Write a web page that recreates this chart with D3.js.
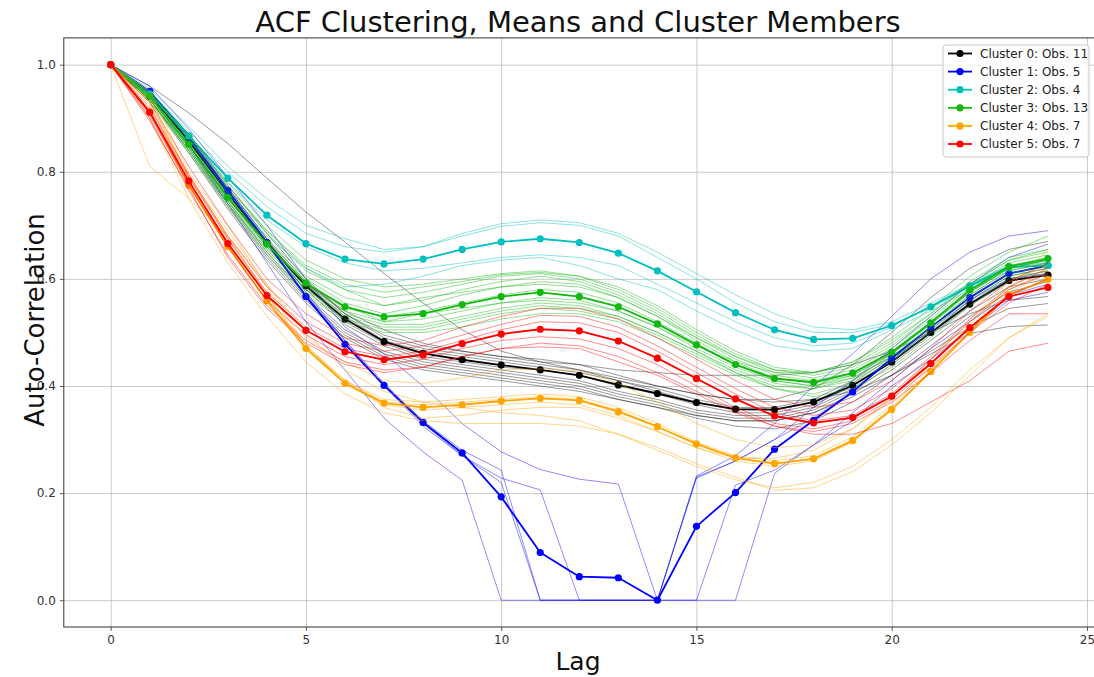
<!DOCTYPE html>
<html>
<head>
<meta charset="utf-8">
<script src="https://cdn.jsdelivr.net/npm/d3@7"></script>
<style>
  body { margin: 0; background: #fff; }
  svg { display: block; font-family: "DejaVu Sans", sans-serif; }
</style>
</head>
<body>
<svg id="chart" width="1094" height="677"></svg>
<script>
// Lags on the x axis
const lags = [0,1,2,3,4,5,6,7,8,9,10,11,12,13,14,15,16,17,18,19,20,21,22,23,24];
const xTicks = [0, 5, 10, 15, 20, 25];
const yTicks = [0.0, 0.2, 0.4, 0.6, 0.8, 1.0];

const clusterIds = [0, 1, 2, 3, 4, 5];
const clusterCounts = [11, 5, 4, 13, 7, 7];
const clusterColors = ["#000000", "#0000ff", "#00bfbf", "#10b810", "#ffa500", "#ff0000"];

// Cluster mean ACF curves
const mean0 = [1.0,0.945,0.858,0.76,0.668,0.587,0.525,0.483,0.461,0.449,0.439,0.430,0.420,0.402,0.386,0.369,0.357,0.356,0.370,0.401,0.445,0.500,0.553,0.597,0.607];
const mean1 = [1.0,0.95,0.865,0.765,0.668,0.567,0.478,0.401,0.332,0.275,0.193,0.089,0.044,0.042,0.0,0.138,0.201,0.282,0.336,0.389,0.452,0.51,0.565,0.61,0.625];
const mean2 = [1.0,0.945,0.867,0.788,0.719,0.666,0.637,0.628,0.637,0.655,0.669,0.675,0.668,0.648,0.615,0.576,0.537,0.505,0.487,0.489,0.513,0.548,0.587,0.622,0.625];
const mean3 = [1.0,0.940,0.851,0.752,0.665,0.592,0.548,0.529,0.535,0.552,0.567,0.575,0.567,0.548,0.516,0.477,0.440,0.414,0.407,0.424,0.463,0.518,0.579,0.623,0.638];
const mean4 = [1.0,0.912,0.775,0.66,0.559,0.470,0.405,0.368,0.360,0.365,0.372,0.377,0.373,0.352,0.324,0.292,0.266,0.255,0.264,0.298,0.356,0.427,0.500,0.57,0.599];
const mean5 = [1.0,0.911,0.783,0.666,0.569,0.504,0.464,0.449,0.458,0.479,0.497,0.506,0.503,0.484,0.452,0.414,0.376,0.344,0.331,0.341,0.381,0.442,0.509,0.567,0.584];

// Individual series belonging to each cluster
const members0 = [
  [1,0.96,0.91,0.853,0.788,0.725,0.669,0.61,0.555,0.505,0.465,0.445,0.43,0.415,0.40,0.385,0.375,0.37,0.375,0.39,0.42,0.46,0.498,0.511,0.514],
  [1,0.95,0.87,0.775,0.685,0.60,0.535,0.495,0.475,0.465,0.455,0.45,0.44,0.42,0.40,0.385,0.375,0.375,0.395,0.44,0.50,0.565,0.62,0.655,0.67],
  [1,0.95,0.865,0.77,0.675,0.595,0.535,0.49,0.47,0.46,0.45,0.44,0.43,0.41,0.395,0.375,0.36,0.36,0.375,0.41,0.46,0.52,0.575,0.62,0.635],
  [1,0.945,0.86,0.765,0.67,0.59,0.53,0.485,0.465,0.455,0.445,0.435,0.425,0.41,0.39,0.37,0.355,0.355,0.37,0.405,0.455,0.51,0.565,0.61,0.625],
  [1,0.945,0.855,0.76,0.665,0.585,0.52,0.48,0.455,0.445,0.435,0.43,0.42,0.40,0.385,0.365,0.35,0.35,0.365,0.40,0.45,0.505,0.56,0.605,0.62],
  [1,0.94,0.85,0.75,0.66,0.58,0.515,0.475,0.45,0.44,0.43,0.42,0.41,0.39,0.375,0.355,0.345,0.345,0.36,0.395,0.445,0.50,0.555,0.60,0.615],
  [1,0.94,0.85,0.745,0.65,0.57,0.505,0.465,0.445,0.435,0.425,0.415,0.405,0.385,0.37,0.35,0.34,0.34,0.355,0.39,0.44,0.495,0.55,0.595,0.61],
  [1,0.94,0.845,0.74,0.645,0.565,0.50,0.46,0.44,0.43,0.42,0.41,0.40,0.38,0.365,0.345,0.335,0.335,0.35,0.385,0.43,0.485,0.54,0.585,0.60],
  [1,0.935,0.84,0.735,0.64,0.56,0.495,0.455,0.435,0.425,0.415,0.405,0.395,0.375,0.36,0.34,0.325,0.32,0.335,0.37,0.42,0.475,0.53,0.575,0.595],
  [1,0.935,0.835,0.73,0.635,0.555,0.49,0.45,0.43,0.42,0.41,0.40,0.39,0.375,0.36,0.345,0.335,0.335,0.35,0.38,0.42,0.465,0.51,0.545,0.554],
  [1,0.94,0.85,0.755,0.665,0.59,0.54,0.505,0.48,0.465,0.455,0.445,0.44,0.43,0.425,0.42,0.42,0.42,0.425,0.44,0.465,0.50,0.535,0.56,0.567]
];
const members1 = [
  [1,0.96,0.88,0.79,0.70,0.60,0.51,0.46,0.40,0.33,0.277,0.244,0.226,0.217,0,0.232,0.27,0.33,0.40,0.46,0.53,0.60,0.65,0.68,0.69],
  [1,0.95,0.86,0.76,0.665,0.57,0.48,0.40,0.33,0.27,0.228,0.206,0,0,0,0.228,0.26,0.30,0.36,0.41,0.47,0.53,0.59,0.64,0.665],
  [1,0.95,0.865,0.765,0.67,0.57,0.485,0.405,0.335,0.28,0.243,0,0,0,0,0.23,0.26,0.30,0.34,0.39,0.45,0.50,0.56,0.60,0.61],
  [1,0.94,0.85,0.74,0.63,0.52,0.43,0.34,0.277,0.224,0,0,0,0,0,0,0.215,0.243,0.29,0.35,0.41,0.47,0.52,0.57,0.59],
  [1,0.95,0.87,0.77,0.675,0.575,0.485,0.40,0.325,0.27,0.22,0,0,0,0,0,0,0.237,0.29,0.335,0.40,0.45,0.505,0.56,0.575]
];
const members2 = [
  [1,0.955,0.885,0.81,0.75,0.70,0.675,0.655,0.66,0.685,0.703,0.71,0.705,0.685,0.65,0.61,0.57,0.535,0.51,0.505,0.52,0.555,0.59,0.625,0.635],
  [1,0.95,0.875,0.80,0.735,0.685,0.66,0.65,0.66,0.68,0.698,0.705,0.70,0.68,0.64,0.60,0.555,0.52,0.50,0.50,0.515,0.545,0.585,0.62,0.63],
  [1,0.945,0.86,0.78,0.71,0.66,0.63,0.615,0.62,0.63,0.64,0.645,0.64,0.625,0.59,0.555,0.52,0.49,0.475,0.48,0.51,0.55,0.59,0.625,0.63],
  [1,0.93,0.85,0.76,0.68,0.62,0.585,0.59,0.605,0.625,0.635,0.64,0.625,0.60,0.58,0.54,0.505,0.475,0.465,0.47,0.505,0.54,0.58,0.615,0.605]
];
const members3 = [
  [1,0.95,0.87,0.78,0.70,0.635,0.60,0.585,0.59,0.60,0.61,0.615,0.605,0.585,0.55,0.505,0.465,0.435,0.425,0.44,0.48,0.535,0.595,0.64,0.655],
  [1,0.945,0.865,0.77,0.69,0.625,0.59,0.575,0.585,0.595,0.608,0.612,0.605,0.58,0.545,0.50,0.46,0.43,0.42,0.435,0.475,0.53,0.59,0.635,0.65],
  [1,0.945,0.86,0.765,0.685,0.615,0.58,0.565,0.575,0.59,0.605,0.61,0.60,0.575,0.54,0.495,0.455,0.425,0.415,0.43,0.47,0.525,0.585,0.63,0.645],
  [1,0.94,0.855,0.76,0.675,0.605,0.565,0.55,0.56,0.58,0.595,0.605,0.595,0.57,0.535,0.49,0.45,0.42,0.41,0.425,0.465,0.52,0.58,0.625,0.64],
  [1,0.94,0.85,0.755,0.67,0.60,0.555,0.535,0.55,0.57,0.585,0.595,0.59,0.565,0.53,0.485,0.445,0.415,0.405,0.42,0.46,0.515,0.575,0.62,0.635],
  [1,0.94,0.85,0.75,0.665,0.59,0.545,0.53,0.54,0.555,0.57,0.58,0.575,0.555,0.52,0.48,0.44,0.41,0.40,0.415,0.455,0.51,0.57,0.615,0.63],
  [1,0.935,0.845,0.745,0.66,0.585,0.54,0.52,0.525,0.54,0.555,0.565,0.56,0.54,0.51,0.47,0.435,0.41,0.40,0.42,0.46,0.515,0.575,0.62,0.635],
  [1,0.935,0.84,0.74,0.655,0.58,0.535,0.515,0.515,0.53,0.545,0.555,0.55,0.53,0.50,0.465,0.43,0.405,0.395,0.415,0.455,0.51,0.57,0.615,0.63],
  [1,0.935,0.84,0.74,0.65,0.575,0.525,0.505,0.505,0.52,0.535,0.545,0.54,0.525,0.495,0.46,0.425,0.40,0.395,0.41,0.45,0.505,0.565,0.61,0.625],
  [1,0.93,0.835,0.735,0.645,0.57,0.52,0.50,0.50,0.51,0.525,0.535,0.535,0.52,0.49,0.455,0.42,0.395,0.385,0.405,0.445,0.50,0.56,0.605,0.62],
  [1,0.935,0.845,0.745,0.655,0.58,0.53,0.51,0.51,0.525,0.54,0.55,0.545,0.53,0.50,0.465,0.425,0.395,0.38,0.395,0.435,0.49,0.55,0.60,0.615],
  [1,0.95,0.87,0.775,0.69,0.62,0.58,0.55,0.565,0.575,0.585,0.59,0.585,0.565,0.53,0.49,0.455,0.43,0.425,0.445,0.49,0.545,0.605,0.65,0.68],
  [1,0.94,0.85,0.75,0.665,0.59,0.55,0.52,0.535,0.545,0.555,0.56,0.555,0.54,0.51,0.475,0.445,0.425,0.425,0.445,0.485,0.535,0.59,0.635,0.655]
];
const members4 = [
  [1,0.81,0.75,0.68,0.59,0.50,0.43,0.39,0.37,0.36,0.35,0.345,0.335,0.31,0.28,0.25,0.225,0.21,0.22,0.25,0.30,0.36,0.43,0.49,0.53],
  [1,0.90,0.75,0.63,0.53,0.445,0.385,0.35,0.335,0.33,0.33,0.33,0.325,0.31,0.285,0.255,0.23,0.205,0.21,0.24,0.29,0.35,0.42,0.49,0.535],
  [1,0.93,0.79,0.69,0.59,0.49,0.445,0.41,0.405,0.415,0.43,0.432,0.428,0.405,0.37,0.33,0.30,0.285,0.29,0.32,0.375,0.45,0.525,0.595,0.625],
  [1,0.925,0.78,0.67,0.565,0.475,0.41,0.375,0.37,0.375,0.38,0.385,0.38,0.36,0.33,0.295,0.27,0.26,0.27,0.305,0.365,0.44,0.515,0.585,0.62],
  [1,0.93,0.795,0.675,0.57,0.47,0.41,0.37,0.365,0.37,0.375,0.38,0.375,0.355,0.325,0.29,0.265,0.255,0.265,0.30,0.36,0.435,0.51,0.58,0.615],
  [1,0.94,0.79,0.68,0.57,0.475,0.405,0.365,0.355,0.36,0.365,0.37,0.365,0.345,0.315,0.285,0.26,0.25,0.26,0.295,0.355,0.43,0.505,0.575,0.61],
  [1,0.95,0.80,0.70,0.585,0.475,0.41,0.36,0.34,0.345,0.355,0.36,0.36,0.34,0.315,0.285,0.265,0.265,0.28,0.32,0.38,0.45,0.52,0.585,0.655]
];
const members5 = [
  [1,0.93,0.81,0.70,0.60,0.535,0.49,0.475,0.485,0.51,0.53,0.545,0.545,0.525,0.49,0.45,0.41,0.375,0.36,0.37,0.41,0.47,0.54,0.595,0.63],
  [1,0.92,0.795,0.68,0.585,0.52,0.48,0.465,0.475,0.495,0.515,0.532,0.53,0.51,0.475,0.435,0.395,0.36,0.345,0.355,0.395,0.455,0.525,0.585,0.62],
  [1,0.915,0.79,0.675,0.575,0.51,0.47,0.455,0.465,0.485,0.505,0.52,0.518,0.50,0.465,0.425,0.385,0.35,0.335,0.345,0.385,0.45,0.52,0.58,0.61],
  [1,0.91,0.78,0.665,0.57,0.505,0.465,0.45,0.46,0.48,0.497,0.506,0.503,0.485,0.452,0.413,0.375,0.343,0.33,0.34,0.38,0.44,0.51,0.57,0.60],
  [1,0.905,0.775,0.66,0.56,0.495,0.455,0.44,0.45,0.47,0.485,0.492,0.488,0.47,0.44,0.40,0.36,0.33,0.32,0.335,0.375,0.435,0.50,0.555,0.59],
  [1,0.90,0.765,0.645,0.55,0.485,0.445,0.43,0.435,0.455,0.47,0.48,0.475,0.455,0.425,0.39,0.355,0.325,0.315,0.33,0.37,0.425,0.485,0.535,0.535],
  [1,0.895,0.77,0.64,0.545,0.48,0.44,0.425,0.435,0.455,0.47,0.473,0.47,0.445,0.42,0.385,0.35,0.325,0.31,0.31,0.33,0.37,0.41,0.465,0.48]
];

const means = [mean0, mean1, mean2, mean3, mean4, mean5];
const members = [members0, members1, members2, members3, members4, members5];

// Plot frame
const plot = { left: 63.8, right: 1094.8, top: 37.9, bottom: 627 };

const svg = d3.select("#chart");

const x = d3.scaleLinear().domain([-1.2, 25.2]).range([plot.left, plot.right]);
const y = d3.scaleLinear().domain([-0.05, 1.05]).range([plot.bottom, plot.top]);

const clipId = "plot-clip";
svg.append("defs").append("clipPath").attr("id", clipId)
  .append("rect")
  .attr("x", plot.left).attr("y", plot.top)
  .attr("width", plot.right - plot.left).attr("height", plot.bottom - plot.top);

// Grid lines
const grid = svg.append("g").attr("class", "grid");
grid.append("g")
  .attr("transform", `translate(0,${plot.bottom})`)
  .call(d3.axisBottom(x).tickValues(xTicks).tickSize(-(plot.bottom - plot.top)).tickFormat(""))
  .call(g => g.select(".domain").remove());
grid.append("g")
  .attr("transform", `translate(${plot.left},0)`)
  .call(d3.axisLeft(y).tickValues(yTicks).tickSize(-(plot.right - plot.left)).tickFormat(""))
  .call(g => g.select(".domain").remove());
grid.selectAll("line").attr("stroke", "#b0b0b0").attr("stroke-width", 0.8).attr("stroke-opacity", 0.85);

// Series
const line = d3.line()
  .x((d, i) => x(lags[i]))
  .y(d => y(d));

const series = svg.append("g").attr("clip-path", `url(#${clipId})`);

clusterIds.forEach(k => {
  const color = clusterColors[k];
  const g = series.append("g").attr("class", `cluster-${k}`);
  g.selectAll("path.member")
    .data(members[k])
    .join("path")
    .attr("class", "member")
    .attr("d", line)
    .attr("fill", "none")
    .attr("stroke", color)
    .attr("stroke-width", 1)
    .attr("stroke-opacity", k === 0 ? 0.4 : 0.45)
    .attr("stroke-linejoin", "round");
  g.append("path")
    .attr("class", "mean")
    .attr("d", line(means[k]))
    .attr("fill", "none")
    .attr("stroke", color)
    .attr("stroke-width", 1.8)
    .attr("stroke-linejoin", "round");
  g.selectAll("circle")
    .data(means[k])
    .join("circle")
    .attr("cx", (d, i) => x(lags[i]))
    .attr("cy", d => y(d))
    .attr("r", 3.6)
    .attr("fill", color);
});

// Axes
const xAxis = svg.append("g")
  .attr("transform", `translate(0,${plot.bottom})`)
  .call(d3.axisBottom(x).tickValues(xTicks).tickSize(4).tickPadding(4).tickFormat(d3.format("d")));
const yAxis = svg.append("g")
  .attr("transform", `translate(${plot.left},0)`)
  .call(d3.axisLeft(y).tickValues(yTicks).tickSize(4).tickPadding(4).tickFormat(d3.format(".1f")));
[xAxis, yAxis].forEach(a => {
  a.select(".domain").remove();
  a.selectAll(".tick line").attr("stroke", "#333").attr("stroke-width", 0.8);
  a.selectAll(".tick text")
    .attr("fill", "#333")
    .style("font-family", "'DejaVu Sans', sans-serif")
    .style("font-size", "12px");
});

// Spines
svg.append("rect")
  .attr("x", plot.left).attr("y", plot.top)
  .attr("width", plot.right - plot.left).attr("height", plot.bottom - plot.top)
  .attr("fill", "none").attr("stroke", "#333").attr("stroke-width", 1);

// Title and axis labels
svg.append("text")
  .attr("x", 578).attr("y", 32)
  .attr("text-anchor", "middle")
  .style("font-size", "29px")
  .attr("fill", "#111")
  .text("ACF Clustering, Means and Cluster Members");

svg.append("text")
  .attr("x", 578).attr("y", 670)
  .attr("text-anchor", "middle")
  .style("font-size", "25px")
  .attr("fill", "#111")
  .text("Lag");

svg.append("text")
  .attr("transform", "translate(44,320) rotate(-90)")
  .attr("text-anchor", "middle")
  .style("font-size", "26px")
  .attr("fill", "#111")
  .text("Auto-Correlation");

// Legend
const legend = svg.append("g").attr("transform", "translate(943,45)");
legend.append("rect")
  .attr("width", 146).attr("height", 112)
  .attr("rx", 3)
  .attr("fill", "#fff").attr("fill-opacity", 0.85)
  .attr("stroke", "#c8c8c8").attr("stroke-width", 1);
const rows = legend.selectAll("g.row")
  .data(clusterIds)
  .join("g")
  .attr("class", "row")
  .attr("transform", (d, i) => `translate(0,${8.5 + i * 18.1})`);
rows.append("line")
  .attr("x1", 5).attr("x2", 29).attr("y1", 0).attr("y2", 0)
  .attr("stroke", d => clusterColors[d]).attr("stroke-width", 1.8);
rows.append("circle")
  .attr("cx", 17).attr("cy", 0).attr("r", 3.6)
  .attr("fill", d => clusterColors[d]);
rows.append("text")
  .attr("x", 37).attr("y", 0).attr("dy", "0.35em")
  .style("font-size", "12px")
  .attr("fill", "#222")
  .text(d => `Cluster ${d}: Obs. ${clusterCounts[d]}`);
</script>
</body>
</html>
